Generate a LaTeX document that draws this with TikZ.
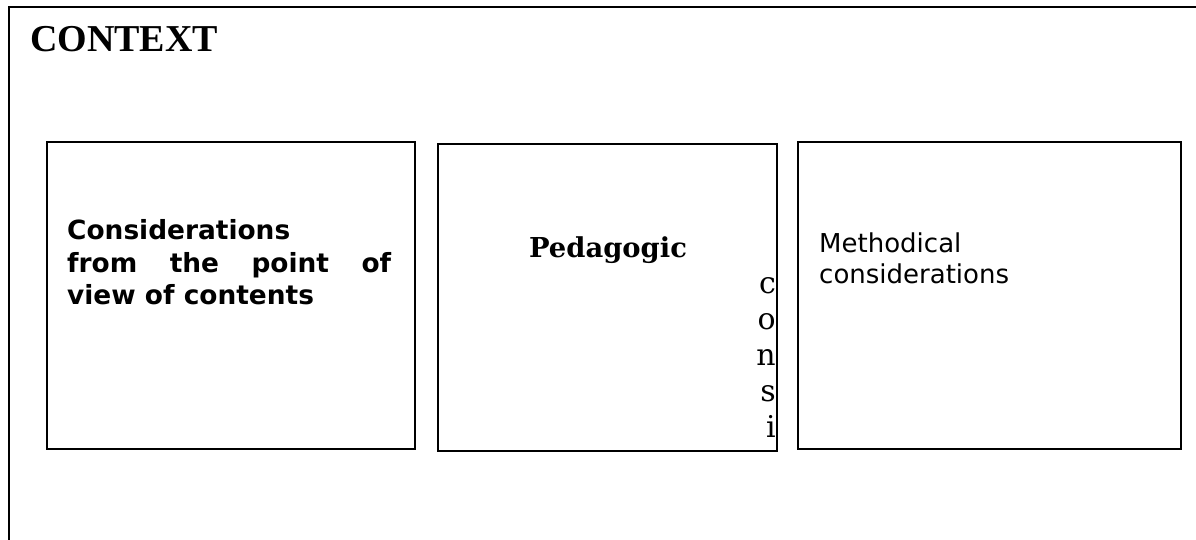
\documentclass[tikz,border=0pt]{standalone}
\usepackage{fontspec}
\setmainfont{Liberation Serif}
\newfontfamily\verdanabf{DejaVu Sans}[FakeStretch=1.0]
\newfontfamily\serifb{DejaVu Serif}
\begin{document}
\begin{tikzpicture}[x=1pt,y=-1pt,
  frame/.style={draw=black,line width=2pt},
  panel/.style={draw=black,line width=1.8pt,fill=none},
  lbl/.style={inner sep=0pt,anchor=base west}]
\useasboundingbox (0,0) rectangle (1196,540);
\fill[white] (0,0) rectangle (1196,540);
% outer frame (cropped at right and bottom)
\coordinate (fbl) at (9,545);
\coordinate (ftl) at (9,7);
\coordinate (ftr) at (1200,7);
\draw[frame] (fbl) -- (ftl) -- (ftr);
\node[lbl] (ctx) at (30,52) {\fontsize{38}{40}\selectfont\bfseries CONTEXT};
% panels
\draw[panel] (47,142) rectangle (415,449);
\draw[panel] (438,144) rectangle (777,451);
\draw[panel] (798,142) rectangle (1181,449);
\node (p1) at (231,295) {};
\node (p2) at (607,297) {};
\node (p3) at (989,295) {};
% panel 1 text
\node[lbl] (t1a) at (67,240) {\fontsize{26.4}{30}\selectfont\verdanabf\bfseries Considerations};
\node[lbl] (t1b) at (67,272) {\fontsize{26.4}{30}\selectfont\verdanabf\bfseries\makebox[324pt][s]{from\hfill the\hfill point\hfill of}};
\node[lbl] (t1c) at (67,304) {\fontsize{26.4}{30}\selectfont\verdanabf\bfseries view of contents};
% panel 2 text
\node[inner sep=0pt,anchor=base] (t2) at (608,257) {\fontsize{27.4}{30}\selectfont\serifb\bfseries Pedagogic};
\foreach \l/\yy [count=\i] in {c/293,o/329,n/365,s/401,i/437}{
  \node[inner sep=0pt,anchor=base east] (v\i) at (776,\yy) {\fontsize{30}{32}\selectfont\serifb \l};
}
% panel 3 text
\node[lbl] (t3a) at (819,252) {\fontsize{26}{30}\selectfont\verdanabf Methodical};
\node[lbl] (t3b) at (819,283) {\fontsize{26}{30}\selectfont\verdanabf considerations};
\end{tikzpicture}
\end{document}
